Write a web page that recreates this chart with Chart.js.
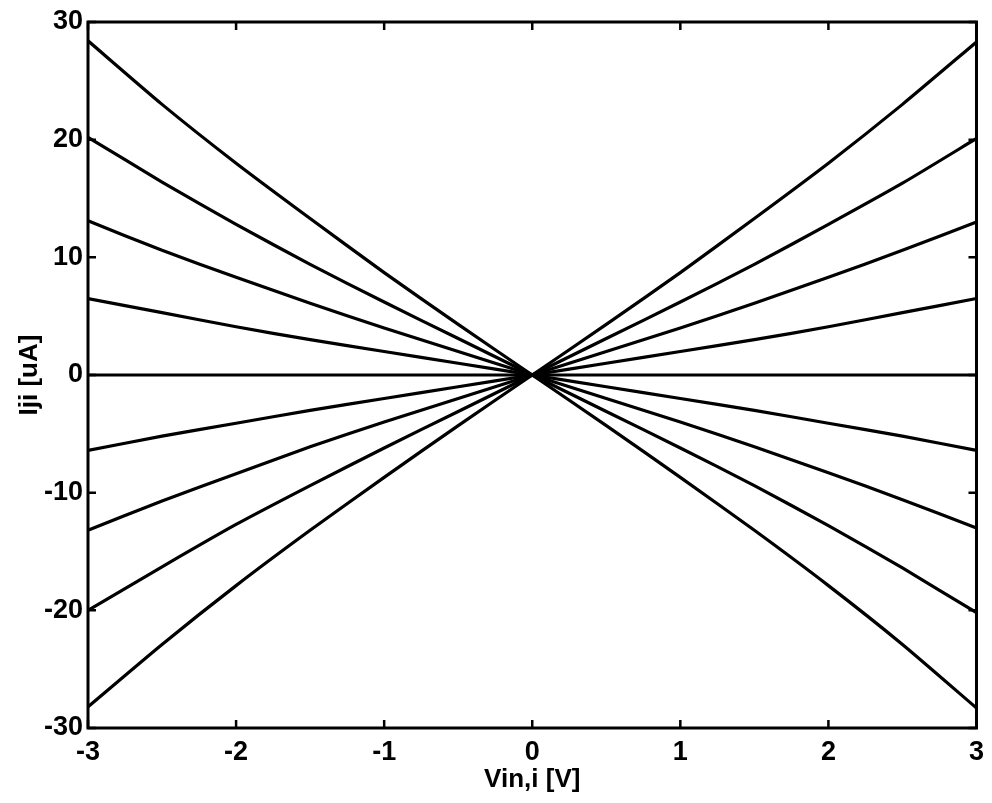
<!DOCTYPE html>
<html>
<head>
<meta charset="utf-8">
<script src="https://cdn.jsdelivr.net/npm/chart.js@4/dist/chart.umd.min.js"></script>
<style>
  html, body { margin: 0; padding: 0; background: #fff; }
  #wrap { width: 992px; height: 803px; position: relative; }
</style>
</head>
<body>
<div id="wrap"><canvas id="c" width="992" height="803"></canvas></div>
<script>
// Data
const vin = [-3, -2.5, -2, -1.5, -1, -0.5, 0, 0.5, 1, 1.5, 2, 2.5, 3];
const iji1 = [28.4, 23.0, 18.0, 13.3, 8.7, 4.3, 0, -4.3, -8.7, -13.2, -17.9, -22.9, -28.3];
const iji2 = [20.2, 16.4, 12.8, 9.4, 6.2, 3.1, 0, -3.1, -6.2, -9.4, -12.8, -16.4, -20.2];
const iji3 = [13.1, 10.6, 8.3, 6.1, 4.0, 2.0, 0, -2.0, -4.0, -6.1, -8.3, -10.6, -13.0];
const iji4 = [6.5, 5.3, 4.1, 3.0, 2.0, 1.0, 0, -1.0, -2.0, -3.0, -4.1, -5.2, -6.4];
const iji5 = [0, 0, 0, 0, 0, 0, 0, 0, 0, 0, 0, 0, 0];
const iji6 = [-6.4, -5.2, -4.1, -3.0, -2.0, -1.0, 0, 1.0, 2.0, 3.0, 4.1, 5.3, 6.5];
const iji7 = [-13.2, -10.7, -8.4, -6.1, -4.0, -2.0, 0, 2.0, 4.0, 6.1, 8.3, 10.6, 13.0];
const iji8 = [-20.0, -16.3, -12.7, -9.4, -6.2, -3.1, 0, 3.1, 6.2, 9.4, 12.8, 16.3, 20.1];
const iji9 = [-28.2, -22.9, -17.9, -13.2, -8.7, -4.3, 0, 4.3, 8.7, 13.3, 18.0, 23.0, 28.3];
const xTicks = [-3, -2, -1, 0, 1, 2, 3];
const yTicks = [-30, -20, -10, 0, 10, 20, 30];
const xTitle = 'Vin,i [V]';
const yTitle = 'Iji [uA]';

const allSeries = [iji1, iji2, iji3, iji4, iji5, iji6, iji7, iji8, iji9];
const datasets = allSeries.map((s, i) => ({
  label: 'curve ' + (i + 1),
  data: vin.map((v, k) => ({ x: v, y: s[k] })),
  borderColor: '#000',
  borderWidth: 3.2,
  pointRadius: 0,
  tension: 0.2,
  fill: false
}));

const FONT = '"Liberation Sans", Arial, Helvetica, sans-serif';

const boxPlugin = {
  id: 'boxPlugin',
  afterDraw(chart) {
    const ctx = chart.ctx;
    const a = chart.chartArea;
    const xs = chart.scales.x, ys = chart.scales.y;
    ctx.save();
    ctx.strokeStyle = '#000';
    ctx.lineWidth = 3;
    ctx.strokeRect(a.left, a.top, a.right - a.left, a.bottom - a.top);
    ctx.lineWidth = 2.5;
    const L = 8;
    ctx.beginPath();
    xTicks.forEach(t => {
      const px = xs.getPixelForValue(t);
      ctx.moveTo(px, a.bottom); ctx.lineTo(px, a.bottom - L);
      ctx.moveTo(px, a.top); ctx.lineTo(px, a.top + L);
    });
    yTicks.forEach(t => {
      const py = ys.getPixelForValue(t);
      ctx.moveTo(a.left, py); ctx.lineTo(a.left + L, py);
      ctx.moveTo(a.right, py); ctx.lineTo(a.right - L, py);
    });
    ctx.stroke();
    ctx.restore();
  }
};

new Chart(document.getElementById('c'), {
  type: 'line',
  data: { datasets },
  options: {
    responsive: false,
    animation: false,
    layout: { padding: { top: 22, right: 13, left: 0, bottom: 0 } },
    plugins: { legend: { display: false }, tooltip: { enabled: false } },
    scales: {
      x: {
        type: 'linear', min: -3, max: 3,
        afterFit(scale) { scale.height = 75; },
        afterBuildTicks(scale) { scale.ticks = xTicks.map(v => ({ value: v })); },
        ticks: { color: '#000', font: { family: FONT, size: 27, weight: 'bold' }, padding: 8, maxRotation: 0, autoSkip: false },
        grid: { display: false, drawTicks: false },
        border: { display: false },
        title: { display: true, text: xTitle, color: '#000', font: { family: FONT, size: 26, weight: 'bold' }, padding: { top: 0, bottom: 8 } }
      },
      y: {
        type: 'linear', min: -30, max: 30,
        afterFit(scale) { scale.width = 88; },
        afterBuildTicks(scale) { scale.ticks = yTicks.map(v => ({ value: v })); },
        ticks: { color: '#000', font: { family: FONT, size: 27, weight: 'bold' }, padding: 5, autoSkip: false },
        grid: { display: false, drawTicks: false },
        border: { display: false },
        title: { display: true, text: yTitle, color: '#000', font: { family: FONT, size: 26, weight: 'bold' }, padding: { top: 14, bottom: 0 } }
      }
    }
  },
  plugins: [boxPlugin]
});
</script>
</body>
</html>
